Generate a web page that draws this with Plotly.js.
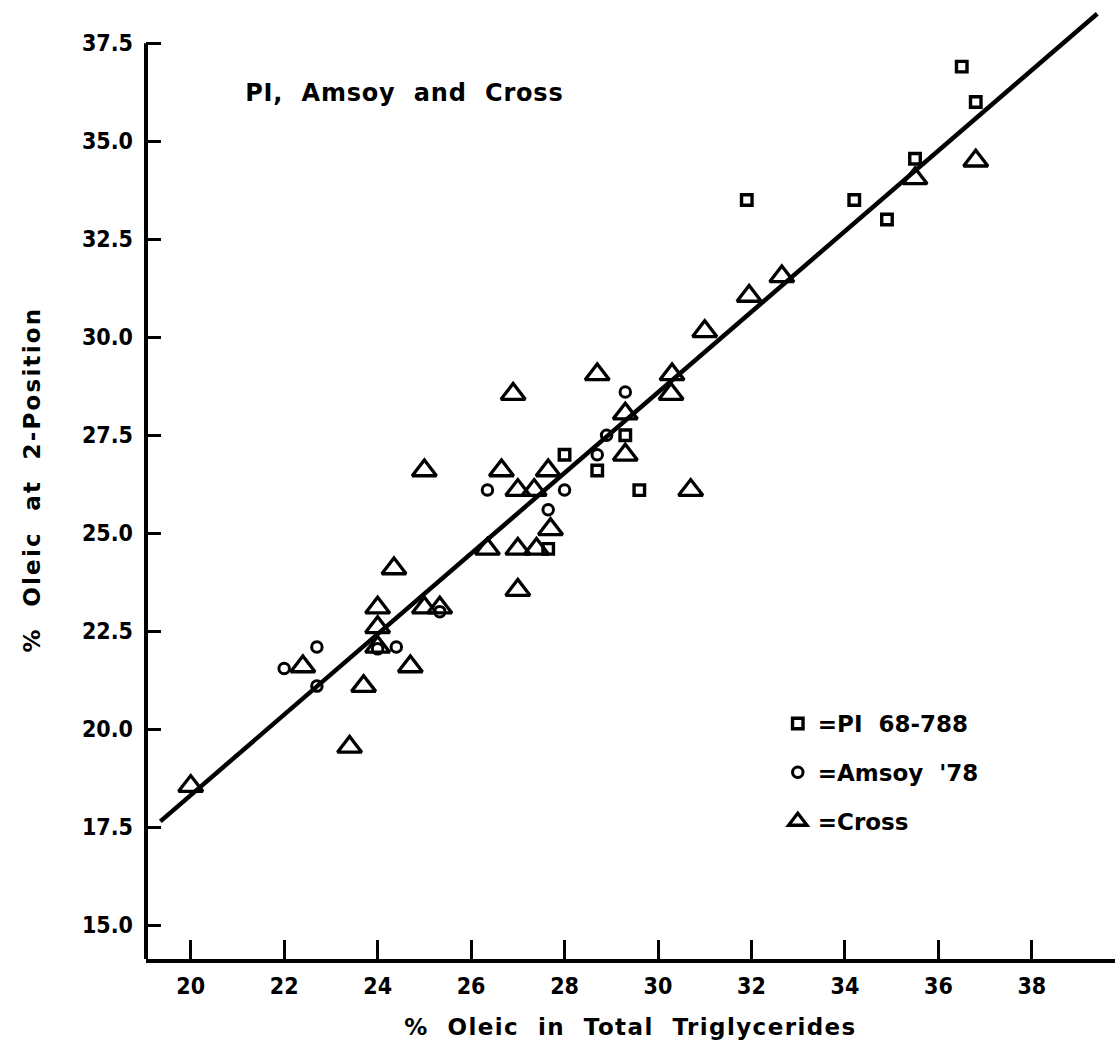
<!DOCTYPE html>
<html>
<head>
<meta charset="utf-8">
<script src="https://cdn.plot.ly/plotly-3.0.1.min.js"></script>
<style>
  html, body { margin: 0; padding: 0; background: #fff; }
  #chart { width: 1115px; height: 1052px; }
  #chart text.xtitle { letter-spacing: 1.4px; }
  #chart text.ytitle { letter-spacing: 2.2px; }
  #chart text.annotation-text { letter-spacing: 0.8px; }
</style>
</head>
<body>
<div id="chart"></div>
<script>
// ---- Data ----
const piX = [36.5, 36.8, 35.5, 31.9, 34.2, 34.9, 29.3, 28.0, 28.7, 29.6, 27.65];
const piY = [36.9, 36.0, 34.55, 33.5, 33.5, 33.0, 27.5, 27.0, 26.6, 26.1, 24.6];

const amsoyX = [22.0, 22.7, 22.7, 24.0, 24.4, 25.33, 26.35, 28.0, 27.65, 28.9, 28.7, 29.3];
const amsoyY = [21.55, 22.1, 21.1, 22.05, 22.1, 23.0, 26.1, 26.1, 25.6, 27.5, 27.0, 28.6];

const crossX = [20.0, 22.4, 23.4, 23.7, 24.0, 24.0, 24.0, 24.35, 24.7, 25.0, 25.33, 25.0,
                26.35, 26.65, 26.9, 27.0, 27.35, 27.65, 27.0, 27.4, 27.0, 27.7, 28.7, 29.3,
                29.3, 30.3, 30.28, 30.7, 31.0, 31.95, 32.65, 35.5, 36.8];
const crossY = [18.55, 21.6, 19.55, 21.1, 23.1, 22.6, 22.1, 24.1, 21.6, 23.1, 23.1, 26.6,
                24.6, 26.6, 28.55, 26.1, 26.1, 26.6, 24.6, 24.6, 23.55, 25.1, 29.05, 28.05,
                27.0, 29.05, 28.55, 26.1, 30.15, 31.05, 31.55, 34.05, 34.5];

const fitX = [19.35, 39.4];
const fitY = [17.65, 38.25];

const xTicks = [20, 22, 24, 26, 28, 30, 32, 34, 36, 38];
const yTicks = [15.0, 17.5, 20.0, 22.5, 25.0, 27.5, 30.0, 32.5, 35.0, 37.5];

const seriesNames = ['=PI  68-788', "=Amsoy  '78", '=Cross'];
const chartNote = 'PI,  Amsoy  and  Cross';
const xTitle = '%  Oleic  in  Total  Triglycerides';
const yTitle = '%  Oleic  at  2-Position';

// ---- Styling ----
const FAMILY = 'DejaVu Sans, Liberation Sans, sans-serif';
const TICKFAMILY = 'DejaVu Sans Condensed, DejaVu Sans, sans-serif';
const INK = '#000000';
const xRange = [19.043, 39.78];
const yRange = [14.14, 38.6];

const traces = [
  {
    x: fitX, y: fitY, type: 'scatter', mode: 'lines',
    line: { color: INK, width: 4.5 }, showlegend: false, hoverinfo: 'skip'
  },
  {
    x: piX, y: piY, type: 'scatter', mode: 'markers', name: seriesNames[0],
    legendgroup: 'a',
    marker: { symbol: 'square-open', size: 10.5, color: INK, line: { width: 3.4, color: INK } }
  },
  {
    x: amsoyX, y: amsoyY, type: 'scatter', mode: 'markers', name: seriesNames[1],
    legendgroup: 'b',
    marker: { symbol: 'circle-open', size: 10.5, color: INK, line: { width: 3, color: INK } }
  },
  {
    x: crossX, y: crossY, type: 'scatter', mode: 'markers', name: seriesNames[2],
    legendgroup: 'c',
    marker: { symbol: 'triangle-up-open', size: 21, color: INK, line: { width: 3.3, color: INK } }
  }
];

const layout = {
  width: 1115, height: 1052,
  margin: { l: 146, r: 0, t: 0, b: 93 },
  paper_bgcolor: '#ffffff', plot_bgcolor: '#ffffff',
  font: { family: FAMILY, color: INK, size: 22, weight: 'bold' },
  showlegend: true,
  legend: {
    x: 0.652, y: 0.268, xanchor: 'left', yanchor: 'top',
    bgcolor: 'rgba(0,0,0,0)', borderwidth: 0,
    traceorder: 'grouped', tracegroupgap: 16, itemwidth: 30,
    font: { family: FAMILY, size: 23, color: INK, weight: 'bold' }
  },
  xaxis: {
    range: xRange, tickmode: 'array', tickvals: xTicks,
    ticks: 'inside', ticklen: 19, tickwidth: 3, tickcolor: INK,
    showline: true, linewidth: 4, linecolor: INK,
    showgrid: false, zeroline: false,
    ticklabelstandoff: 3,
    tickfont: { family: TICKFAMILY, size: 23, color: INK, weight: 'bold' },
    title: { text: xTitle, standoff: 22, font: { family: FAMILY, size: 23, color: INK, weight: 'bold' } }
  },
  yaxis: {
    range: yRange, tickmode: 'array', tickvals: yTicks, tickformat: '.1f',
    ticks: 'inside', ticklen: 15, tickwidth: 3, tickcolor: INK,
    showline: false, showgrid: false, zeroline: false,
    ticklabelstandoff: 12,
    tickfont: { family: TICKFAMILY, size: 23, color: INK, weight: 'bold' },
    title: { text: yTitle, standoff: 34, font: { family: FAMILY, size: 23, color: INK, weight: 'bold' } }
  },
  shapes: [
    { type: 'line', xref: 'paper', yref: 'y', x0: 0, x1: 0, y0: yRange[0], y1: 37.5,
      line: { color: INK, width: 4 } }
  ],
  annotations: [
    { text: chartNote, xref: 'paper', yref: 'paper', x: 0.109, y: 0.903,
      xanchor: 'left', yanchor: 'middle', showarrow: false,
      font: { family: FAMILY, size: 24, color: INK, weight: 'bold' } }
  ]
};

Plotly.newPlot('chart', traces, layout, { staticPlot: true, displayModeBar: false });
</script>
</body>
</html>
